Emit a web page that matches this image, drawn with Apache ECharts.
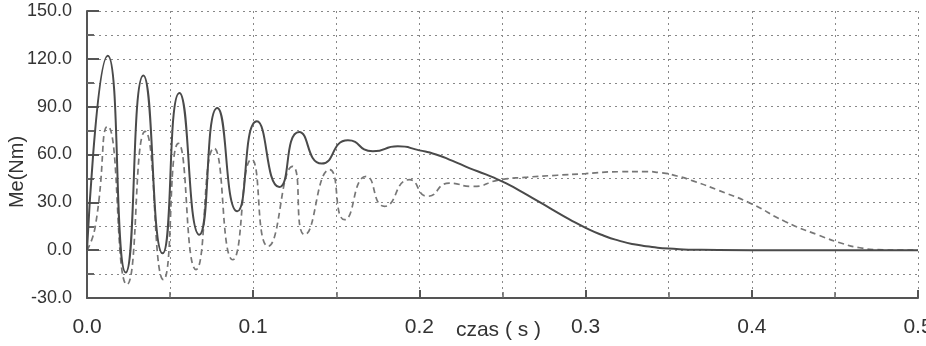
<!DOCTYPE html>
<html>
<head>
<meta charset="utf-8">
<script src="https://cdn.jsdelivr.net/npm/echarts@6/dist/echarts.min.js"></script>
<style>
html, body { margin: 0; padding: 0; background: #fff; }
#chart { width: 926px; height: 346px; }
</style>
</head>
<body>
<div id="chart"></div>
<script>
// czas (s), Me (Nm)
var solidTime = [0, 0.0125, 0.0233, 0.0339, 0.0455, 0.0556, 0.0676, 0.0784, 0.0904, 0.1022, 0.1157, 0.1277, 0.1412, 0.157, 0.172, 0.187, 0.2, 0.21, 0.22, 0.23, 0.24, 0.25, 0.26, 0.27, 0.28, 0.29, 0.3, 0.31, 0.32, 0.33, 0.34, 0.35, 0.37, 0.4, 0.5];
var solidValues = [0, 122, -14, 109.5, -2, 98.6, 9.7, 89.2, 24.4, 80.8, 39.6, 74.1, 54.3, 68.9, 62, 65.1, 62.6, 60, 56, 51.5, 47.5, 43, 37.5, 31.5, 25.5, 19.5, 14, 9.5, 6, 3.5, 2, 1, 0.2, 0, 0];

var dashedTime = [0, 0.005, 0.0125, 0.024, 0.035, 0.046, 0.055, 0.0656, 0.0764, 0.0877, 0.099, 0.109, 0.1237, 0.131, 0.146, 0.155, 0.168, 0.179, 0.194, 0.205, 0.218, 0.232, 0.248, 0.265, 0.283, 0.3, 0.32, 0.335, 0.345, 0.355, 0.365, 0.38, 0.4, 0.42, 0.44, 0.455, 0.465, 0.475, 0.49, 0.5];
var dashedValues = [0, 15, 77.7, -21.6, 74.5, -18.5, 67, -12.2, 64, -6, 57, 2.4, 52.6, 9.7, 50.5, 19.1, 46.3, 27.5, 44.2, 33.8, 42, 40, 44, 45.8, 47, 48, 49.2, 49.3, 48.6, 46.5, 43.3, 37.5, 29, 18, 9.5, 4, 1.5, 0.3, 0, 0];

var yTicks = { min: -30, max: 150, step: 30 };
var xTicks = { min: 0, max: 0.5, step: 0.1 };

function pairs(xs, ys) {
    var out = [];
    for (var i = 0; i < xs.length; i++) {
        out.push([xs[i], ys[i]]);
    }
    return out;
}

var gridLine = { show: true, lineStyle: { color: '#888', width: 1, type: [2, 4] } };

var myChart = echarts.init(document.getElementById('chart'));
myChart.setOption({
    backgroundColor: '#fff',
    animation: false,
    grid: { left: 87, right: 8, top: 11, bottom: 48, outerBoundsMode: 'none', containLabel: false },
    xAxis: {
        type: 'value',
        min: xTicks.min,
        max: xTicks.max,
        interval: xTicks.step,
        name: 'czas ( s )',
        nameLocation: 'middle',
        nameGap: 22,
        nameMoveOverlap: false,
        nameTextStyle: { fontFamily: 'Liberation Sans', fontSize: 21, color: '#333', padding: [0, 8, 0, 0] },
        axisLine: { show: true, onZero: false, lineStyle: { color: '#555', width: 2 } },
        axisTick: { show: true, inside: true, length: 8, lineStyle: { color: '#555', width: 2 } },
        minorTick: { show: true, splitNumber: 2, length: 6, lineStyle: { color: '#666', width: 1.5 } },
        axisLabel: {
            margin: 19,
            fontFamily: 'Liberation Sans',
            fontSize: 21,
            color: '#333',
            formatter: function (v) { return v.toFixed(1); }
        },
        splitLine: gridLine,
        minorSplitLine: gridLine
    },
    yAxis: {
        type: 'value',
        min: yTicks.min,
        max: yTicks.max,
        interval: yTicks.step,
        axisLine: { show: true, onZero: false, lineStyle: { color: '#555', width: 2 } },
        axisTick: { show: true, inside: true, length: 12, lineStyle: { color: '#555', width: 2 } },
        minorTick: { show: true, splitNumber: 2, length: 7, lineStyle: { color: '#666', width: 2 } },
        axisLabel: {
            margin: 15,
            fontFamily: 'Liberation Sans',
            fontSize: 18,
            color: '#333',
            formatter: function (v) { return v.toFixed(1); }
        },
        splitLine: gridLine,
        minorSplitLine: gridLine
    },
    graphic: [{
        type: 'text',
        x: 17,
        y: 172,
        rotation: Math.PI / 2,
        style: {
            text: 'Me(Nm)',
            fontFamily: 'Liberation Sans',
            fontSize: 20,
            fill: '#333',
            align: 'center',
            verticalAlign: 'middle'
        }
    }],
    series: [{
        type: 'line',
        data: pairs(solidTime, solidValues),
        smooth: 0.6,
        showSymbol: false,
        lineStyle: { color: '#4a4a4a', width: 2 },
        z: 3
    }, {
        type: 'line',
        data: pairs(dashedTime, dashedValues),
        smooth: 0.6,
        showSymbol: false,
        lineStyle: { color: '#777', width: 1.7, type: [6, 4] },
        z: 2
    }]
});

window.addEventListener('resize', function () {
    myChart.resize();
});
</script>
</body>
</html>
